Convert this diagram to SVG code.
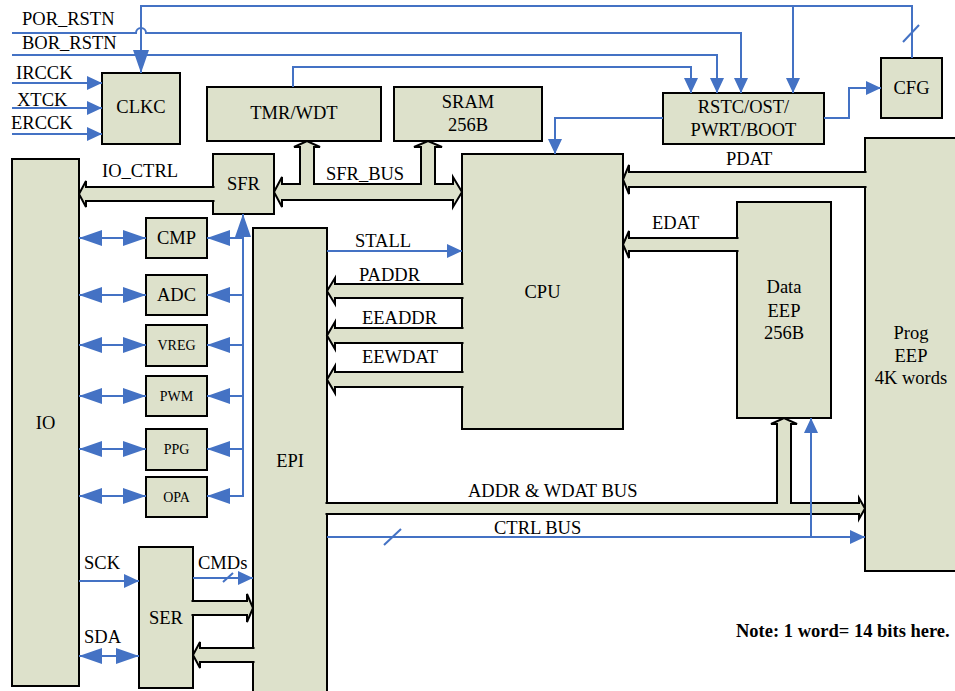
<svg xmlns="http://www.w3.org/2000/svg" width="955" height="691" viewBox="0 0 955 691">
<style>
.box{fill:#DDE1CB;stroke:#000;stroke-width:2}
.bus{fill:#DDE1CB;stroke:#000;stroke-width:2;stroke-linejoin:miter}
.sig{fill:none;stroke:#4472C4;stroke-width:2}
text{font-family:'Liberation Serif','Times New Roman',Times,serif;font-size:18.5px;fill:#000}
.c{text-anchor:middle}
.s{font-size:14px}
.b{font-weight:bold}
</style>
<defs>
<marker id="as" markerUnits="userSpaceOnUse" markerWidth="16" markerHeight="14" refX="15" refY="7" orient="auto-start-reverse"><path d="M0,0 L15,7 L0,14 Z" fill="#4472C4"/></marker>
<marker id="al" markerUnits="userSpaceOnUse" markerWidth="24" markerHeight="16" refX="23" refY="8" orient="auto-start-reverse"><path d="M0,0 L23,8 L0,16 Z" fill="#4472C4"/></marker>
</defs>
<rect width="955" height="691" fill="#fff"/>

<g id="nodes">
<g id="clkc"><rect class="box" x="102" y="73" width="78" height="71"/><text class="c" x="141" y="113">CLKC</text></g>
<g id="tmr"><rect class="box" x="207" y="87" width="174" height="54"/><text class="c" x="294" y="119">TMR/WDT</text></g>
<g id="sram"><rect class="box" x="394" y="87" width="148" height="54"/><text class="c" x="468" y="108">SRAM</text><text class="c" x="468" y="131">256B</text></g>
<g id="rstc"><rect class="box" x="663" y="93" width="161" height="51"/><text class="c" x="743.5" y="113">RSTC/OST/</text><text class="c" x="743.5" y="136">PWRT/BOOT</text></g>
<g id="cfg"><rect class="box" x="881" y="58" width="61" height="60"/><text class="c" x="911.5" y="94">CFG</text></g>
<g id="prog"><rect class="box" x="865" y="138" width="95" height="433"/><text class="c" x="911" y="339">Prog</text><text class="c" x="911" y="362">EEP</text><text class="c" x="911" y="384">4K words</text></g>
<g id="cpu"><rect class="box" x="462" y="154" width="161" height="275"/><text class="c" x="542.5" y="298">CPU</text></g>
<g id="deep"><rect class="box" x="737" y="202" width="94" height="216"/><text class="c" x="784" y="293">Data</text><text class="c" x="784" y="317">EEP</text><text class="c" x="784" y="339">256B</text></g>
<g id="io"><rect class="box" x="12" y="159" width="67" height="527"/><text class="c" x="45.5" y="429">IO</text></g>
<g id="sfr"><rect class="box" x="213" y="154" width="61" height="60"/><text class="c" x="243.5" y="190">SFR</text></g>
<g id="cmp"><rect class="box" x="146" y="218" width="61" height="40"/><text class="c" x="176.5" y="244">CMP</text></g>
<g id="adc"><rect class="box" x="146" y="275" width="61" height="40"/><text class="c" x="176.5" y="301">ADC</text></g>
<g id="vreg"><rect class="box" x="146" y="325" width="61" height="41"/><text class="c s" x="176.5" y="350">VREG</text></g>
<g id="pwm"><rect class="box" x="146" y="376" width="61" height="40"/><text class="c s" x="176.5" y="401">PWM</text></g>
<g id="ppg"><rect class="box" x="146" y="429" width="61" height="41"/><text class="c s" x="176.5" y="454">PPG</text></g>
<g id="opa"><rect class="box" x="146" y="477" width="61" height="40"/><text class="c s" x="176.5" y="502">OPA</text></g>
<g id="epi"><rect class="box" x="253" y="228" width="74" height="480"/><text class="c" x="290" y="467">EPI</text></g>
<g id="ser"><rect class="box" x="139" y="547" width="54" height="141"/><text class="c" x="166" y="624">SER</text></g>
</g>

<g id="connectors">
<path class="bus" d="M214.5,187 H86 V181 L79,194 L86,207 V201 H214.5"/>
<path class="bus" d="M274,192 L282,177 V184 H300 V147 H294 L307,141 L320,147 H314 V184 H421 V147 H414 L428,141 L442,147 H435 V184 H453 V177 L462,192 L453,207 V200 H282 V207 Z"/>
<path class="bus" d="M866.5,172 H629 V165 L623,179.5 L629,194 V187 H866.5"/>
<path class="bus" d="M738.5,238 H629 V231 L623,244.5 L629,258 V251 H738.5"/>
<path class="bus" d="M463.5,284 H335 V278 L327,291 L335,304 V298 H463.5"/>
<path class="bus" d="M463.5,328 H335 V322 L327,335.5 L335,349 V343 H463.5"/>
<path class="bus" d="M463.5,372 H335 V366 L327,379.5 L335,393 V387 H463.5"/>
<path class="bus" d="M325.5,503 H777 V424 H771 L784,418 L797,424 H791 V503 H859 V498 L865,508.5 L859,519 V514 H325.5"/>
<path class="bus" d="M191.5,601 H247 V594 L253,608 L247,622 V615 H191.5"/>
<path class="bus" d="M254.5,648 H200 V642 L193,655 L200,668 V662 H254.5"/>

<path class="sig" d="M912,58 V6 H141 V73" marker-end="url(#al)"/>
<path class="sig" d="M793,6 V93" marker-end="url(#as)"/>
<path class="sig" d="M903,42 L919,25"/>
<path class="sig" d="M12,33 H136 A5,5 0 0 1 146,33 H741 V93" marker-end="url(#as)"/>
<path class="sig" d="M12,55 H717 V93" marker-end="url(#as)"/>
<path class="sig" d="M293,87 V67 H691 V93" marker-end="url(#as)"/>
<path class="sig" d="M12,83 H102" marker-end="url(#as)"/>
<path class="sig" d="M12,108 H102" marker-end="url(#as)"/>
<path class="sig" d="M12,134 H102" marker-end="url(#as)"/>
<path class="sig" d="M663,118 H555 V154" marker-end="url(#as)"/>
<path class="sig" d="M824,118 H849 V88 H881" marker-end="url(#as)"/>
<path class="sig" d="M243,497 V214" marker-end="url(#al)"/>
<path class="sig" d="M243,238 H207" marker-end="url(#al)"/>
<path class="sig" d="M243,295 H207" marker-end="url(#al)"/>
<path class="sig" d="M243,345 H207" marker-end="url(#al)"/>
<path class="sig" d="M243,396 H207" marker-end="url(#al)"/>
<path class="sig" d="M243,449 H207" marker-end="url(#al)"/>
<path class="sig" d="M243,496 H207" marker-end="url(#al)"/>
<path class="sig" d="M79,238 H146" marker-start="url(#al)" marker-end="url(#al)"/>
<path class="sig" d="M79,295 H146" marker-start="url(#al)" marker-end="url(#al)"/>
<path class="sig" d="M79,345 H146" marker-start="url(#al)" marker-end="url(#al)"/>
<path class="sig" d="M79,396 H146" marker-start="url(#al)" marker-end="url(#al)"/>
<path class="sig" d="M79,449 H146" marker-start="url(#al)" marker-end="url(#al)"/>
<path class="sig" d="M79,496 H146" marker-start="url(#al)" marker-end="url(#al)"/>
<path class="sig" d="M327,251 H462" marker-end="url(#as)"/>
<path class="sig" d="M327,537 H865" marker-end="url(#as)"/>
<path class="sig" d="M384,545 L401,529"/>
<path class="sig" d="M811,537 V418" marker-end="url(#as)"/>
<path class="sig" d="M79,581 H139" marker-end="url(#as)"/>
<path class="sig" d="M79,656 H139" marker-start="url(#al)" marker-end="url(#al)"/>
<path class="sig" d="M193,578 H253" marker-end="url(#as)"/>
<path class="sig" d="M223,582 L233,573"/>
</g>

<g id="labels">
<text x="22" y="25">POR_RSTN</text>
<text x="22" y="49">BOR_RSTN</text>
<text x="16" y="79">IRCCK</text>
<text x="17" y="106">XTCK</text>
<text x="11" y="129">ERCCK</text>
<text x="102" y="177">IO_CTRL</text>
<text x="326" y="180">SFR_BUS</text>
<text x="355" y="247">STALL</text>
<text x="359" y="281">PADDR</text>
<text x="362" y="324">EEADDR</text>
<text x="362" y="363">EEWDAT</text>
<text x="726" y="165">PDAT</text>
<text x="652" y="229">EDAT</text>
<text x="468" y="497">ADDR &amp; WDAT BUS</text>
<text x="494" y="534">CTRL BUS</text>
<text x="84" y="569">SCK</text>
<text x="84" y="643">SDA</text>
<text x="198" y="569">CMDs</text>
<text class="b" x="736" y="637">Note: 1 word= 14 bits here.</text>
</g>
</svg>
